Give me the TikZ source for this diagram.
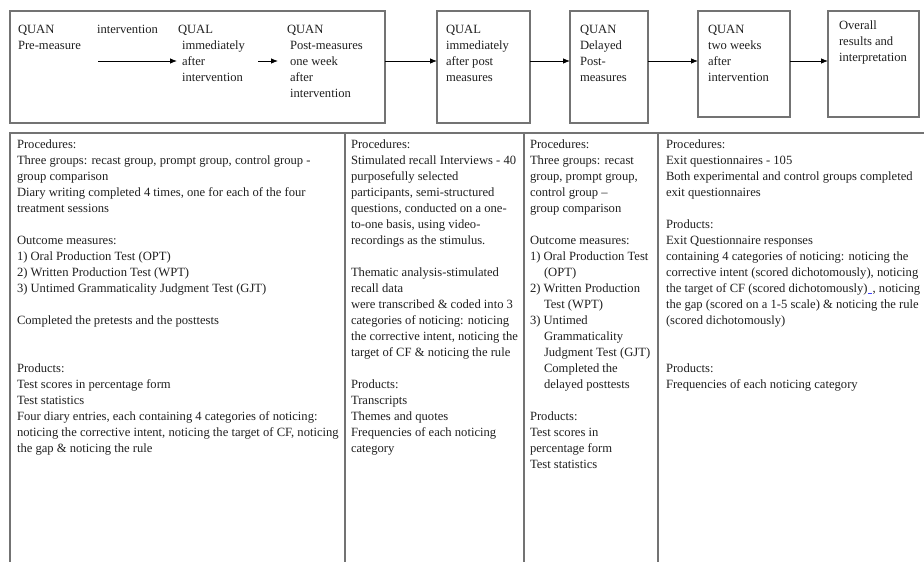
\documentclass[tikz,border=0pt]{standalone}
\usepackage{fontspec}
\setmainfont{Liberation Serif}
\usetikzlibrary{arrows.meta,calc}
\begin{document}
\begin{tikzpicture}[x=1pt,y=-1pt,
  every node/.style={inner sep=0pt, outer sep=0pt},
  txt/.style={anchor=north west, align=left, text=black!88, font=\fontsize{12.6}{16}\selectfont},
  box/.style={draw=black!55, line width=1.1pt, anchor=north west},
  gridline/.style={draw=black!55, line width=1.1pt},
  arr/.style={draw=black, line width=0.8pt, -{Latex[length=7pt,width=5.5pt]}}]
\useasboundingbox (0,0) rectangle (924,562);

% ---------- top row boxes ----------
\node[box, minimum width=375pt, minimum height=112pt] (b1) at (10,11) {};
\node[box, minimum width=93pt, minimum height=112pt] (b2) at (437,11) {};
\node[box, minimum width=78pt, minimum height=112pt] (b3) at (570,11) {};
\node[box, minimum width=92pt, minimum height=106pt] (b4) at (698,11) {};
\node[box, minimum width=91pt, minimum height=106pt] (b5) at (828,11) {};

\coordinate (ay) at (0,61);
\draw[arr] (b1.east |- ay) -- (b2.west |- ay);
\draw[arr] (b2.east |- ay) -- (b3.west |- ay);
\draw[arr] (b3.east |- ay) -- (b4.west |- ay);
\draw[arr] (b4.east |- ay) -- (b5.west |- ay);

% box 1 contents
\node[txt] (t1a) at (18,21.8) {\strut QUAN\\Pre-measure};
\node[txt] (t1b) at (97,21.8) {\strut intervention};
\node[txt] (t1c) at (178,21.8) {\strut QUAL\\\hspace*{4pt}immediately\\\hspace*{4pt}after\\\hspace*{4pt}intervention};
\node[txt] (t1d) at (287,21.8) {\strut QUAN\\\hspace*{3pt}Post-measures\\\hspace*{3pt}one week\\\hspace*{3pt}after\\\hspace*{3pt}intervention};
\coordinate (i1s) at (98,61);
\coordinate (i1e) at (177,61);
\coordinate (i2s) at (258,61);
\coordinate (i2e) at (278,61);
\draw[arr] (i1s) -- (i1e);
\draw[arr] (i2s) -- (i2e);

% other boxes
\node[txt] (t2) at (446,21.8) {\strut QUAL\\immediately\\after post\\measures};
\node[txt] (t3) at (580,21.8) {\strut QUAN\\Delayed\\Post-\\measures};
\node[txt] (t4) at (708,21.8) {\strut QUAN\\two weeks\\after\\intervention};
\node[txt] (t5) at (839,17.8) {\strut Overall\\results and\\interpretation};

% ---------- table ----------
\draw[gridline] (10,562) -- (10,133) -- (924,133);
\draw[gridline] (345,133) -- (345,562);
\draw[gridline] (524,133) -- (524,562);
\draw[gridline] (658,133) -- (658,562);

\node[txt] (c1) at (17,136.8) {\strut Procedures:\\
Three groups: recast group, prompt group, control group -\\
group comparison\\
Diary writing completed 4 times, one for each of the four\\
treatment sessions\\
\mbox{}\\
Outcome measures:\\
1) Oral Production Test (OPT)\\
2) Written Production Test (WPT)\\
3) Untimed Grammaticality Judgment Test (GJT)\\
\mbox{}\\
Completed the pretests and the posttests\\
\mbox{}\\
\mbox{}\\
Products:\\
Test scores in percentage form\\
Test statistics\\
Four diary entries, each containing 4 categories of noticing:\\
noticing the corrective intent, noticing the target of CF, noticing\\
the gap \& noticing the rule};

\node[txt] (c2) at (351,136.8) {\strut Procedures:\\
Stimulated recall Interviews - 40\\
purposefully selected\\
participants, semi-structured\\
questions, conducted on a one-\\
to-one basis, using video-\\
recordings as the stimulus.\\
\mbox{}\\
Thematic analysis-stimulated\\
recall data\\
were transcribed \& coded into 3\\
categories of noticing: noticing\\
the corrective intent, noticing the\\
target of CF \& noticing the rule\\
\mbox{}\\
Products:\\
Transcripts\\
Themes and quotes\\
Frequencies of each noticing\\
category};

\node[txt] (c3) at (530,136.8) {\strut Procedures:\\
Three groups: recast\\
group, prompt group,\\
control group --\\
group comparison\\
\mbox{}\\
Outcome measures:\\
1) Oral Production Test\\
\hspace*{14pt}(OPT)\\
2) Written Production\\
\hspace*{14pt}Test (WPT)\\
3) Untimed\\
\hspace*{14pt}Grammaticality\\
\hspace*{14pt}Judgment Test (GJT)\\
\hspace*{14pt}Completed the\\
\hspace*{14pt}delayed posttests\\
\mbox{}\\
Products:\\
Test scores in\\
percentage form\\
Test statistics};

\node[txt] (c4) at (666,136.8) {\strut Procedures:\\
Exit questionnaires - 105\\
Both experimental and control groups completed\\
exit questionnaires\\
\mbox{}\\
Products:\\
Exit Questionnaire responses\\
containing 4 categories of noticing: noticing the\\
corrective intent (scored dichotomously), noticing\\
the target of CF (scored dichotomously)\hspace{0.5pt}\textcolor{blue!75}{\rule[-2pt]{4pt}{0.8pt}}\hspace{0.5pt}, noticing\\
the gap (scored on a 1-5 scale) \& noticing the rule\\
(scored dichotomously)\\
\mbox{}\\
\mbox{}\\
Products:\\
Frequencies of each noticing category};
\end{tikzpicture}
\end{document}
